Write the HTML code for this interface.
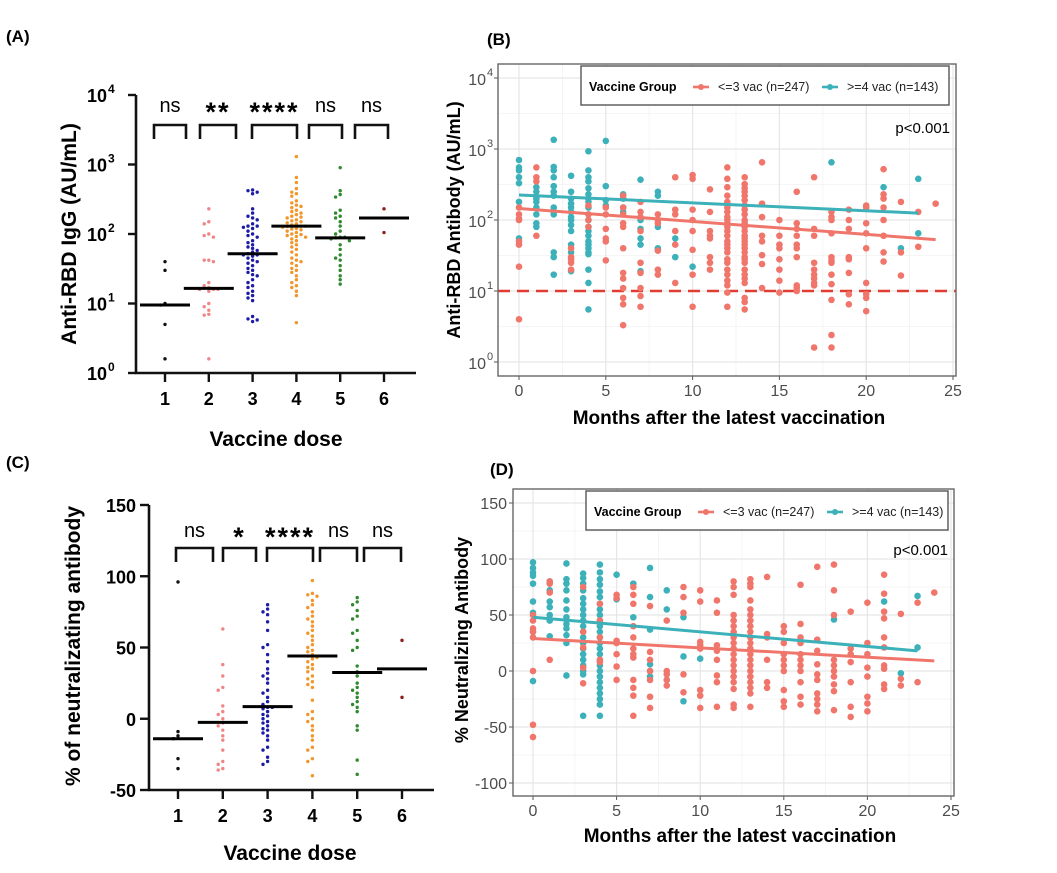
<!DOCTYPE html>
<html><head><meta charset="utf-8"><style>
html,body{margin:0;padding:0;background:#fff;}
svg{display:block;font-family:"Liberation Sans",Arial,sans-serif;}
</style></head><body>
<svg id="fig" width="1057" height="873" viewBox="0 0 1057 873" xmlns="http://www.w3.org/2000/svg">
<rect x="0" y="0" width="1057" height="873" fill="#fff"/>
<text x="6" y="42" font-size="17" font-weight="bold">(A)</text>
<text x="487" y="45" font-size="17" font-weight="bold">(B)</text>
<text x="6" y="468" font-size="17" font-weight="bold">(C)</text>
<text x="490" y="475" font-size="17" font-weight="bold">(D)</text>
<text transform="translate(76,234) rotate(-90)" text-anchor="middle" font-size="21" font-weight="bold">Anti-RBD IgG (AU/mL)</text>
<text x="276" y="446" text-anchor="middle" font-size="21" font-weight="bold">Vaccine dose</text>
<text transform="translate(80,646) rotate(-90)" text-anchor="middle" font-size="21" font-weight="bold">% of neutralizating antibody</text>
<text x="290" y="860" text-anchor="middle" font-size="21" font-weight="bold">Vaccine dose</text>
<text transform="translate(460,220) rotate(-90)" text-anchor="middle" font-size="18" font-weight="bold">Anti-RBD Antibody (AU/mL)</text>
<text x="729" y="424" text-anchor="middle" font-size="19" font-weight="bold">Months after the latest vaccination</text>
<text transform="translate(468,640) rotate(-90)" text-anchor="middle" font-size="18" font-weight="bold">% Neutralizing Antibody</text>
<text x="740" y="842" text-anchor="middle" font-size="19" font-weight="bold">Months after the latest vaccination</text>
<g id="layer"></g>
</svg>
<script>
// ---------- Panel A data (Anti-RBD IgG by dose) ----------
const doseCategories = ["1","2","3","4","5","6"];
const aDose1 = [40,30,10,9.5,5,1.6];
const aDose2 = [230,150,140,100,95,90,42,40,42,20,18,17,16,16,16,15,10,9,8,7,6.8,1.6];
const aDose3 = [430,420,400,380,230,200,180,170,160,140,130,130,125,120,110,100,95,90,80,75,70,65,62,58,55,52,50,50,48,45,42,40,38,35,32,30,28,26,25,22,20,18,17,15,14,13,12,11,6.5,6,5.8,5.5];
const aDose4 = [1300,650,550,450,400,380,350,300,280,260,250,240,220,210,200,190,180,175,170,160,155,150,145,140,135,130,130,128,125,120,118,115,110,105,100,98,95,92,90,85,80,75,70,65,60,55,50,45,42,40,38,35,32,30,28,25,22,20,18,17,15,13,5.3];
const aDose5 = [900,420,370,340,220,200,180,170,150,130,110,100,90,90,88,85,80,70,60,50,45,42,35,30,25,22,19];
const aDose6 = [230,105];
const aMedians = [9.5,16.5,52,130,88,170];
const aSig = ["ns","**","****","ns","ns"];
const aTickLabels = ["0","1","2","3","4"];
// ---------- Panel C data (% neutralizing by dose) ----------
const cDose1 = [96,-9,-12,-14,-28,-35];
const cDose2 = [63,38,30,22,20,9,5,3,0,-3,-5,-8,-12,-15,-22,-30,-32,-35,-36];
const cDose3 = [80,77,75,73,68,62,52,50,45,40,35,32,30,28,25,20,18,15,12,10,8,8,7,5,3,2,0,-2,-3,-5,-7,-8,-10,-12,-15,-20,-22,-27,-30,-32];
const cDose4 = [97,88,87,86,83,80,78,75,72,70,68,65,62,60,58,55,52,50,48,47,45,44,43,42,40,38,36,35,33,30,28,26,24,22,13,5,3,0,-2,-5,-8,-12,-15,-20,-22,-28,-30,-40];
const cDose5 = [85,82,80,76,72,70,62,60,55,50,48,37,33,30,25,22,20,18,15,12,10,8,5,-5,-8,-29,-39];
const cDose6 = [55,15];
const cMedians = [-14,-2.5,8.5,44,32.5,35];
const cSig = ["ns","*","****","ns","ns"];
const cTicks = [-50,0,50,100,150];
// ---------- Panel B data (month, values) ----------
const bRed = [[0,[150,120,105,100,50,45,22,4]],[1,[550,400,350,60]],[3,[40,30,28,25,20]],[4,[160,120,100,80]],[5,[150,120,75,55,50,27]],[6,[220,150,120,90,80,40,18,15,11,8,6.5,3.3]],[7,[180,130,110,70,25,18,11,8.5,6]],[8,[120,100,90,37,20,17]],[9,[400,140,120,70,45,13]],[10,[430,380,140,100,70,38,17,6]],[11,[270,130,70,60,55,30,25,20]],[12,[550,380,290,220,180,150,130,110,100,90,80,70,60,50,45,40,35,28,25,20,17,14,12,9.5,6]],[13,[400,320,280,250,220,190,160,140,120,100,90,80,70,60,55,50,45,40,35,30,28,25,20,17,15,13,8,7,5.5]],[14,[650,170,110,60,50,32,24,11]],[15,[100,60,45,40,28,20,14,9.5]],[16,[250,90,75,60,45,40,30,12,11,10]],[17,[400,75,60,25,20,17,15,13,12,1.6]],[18,[130,110,100,65,30,27,25,17,12.5,7.5,2.4,1.6]],[19,[140,100,75,30,28,18,9,6.5]],[20,[160,150,90,65,40,13,9,8,5.2]],[21,[520,230,200,150,100,60,35,26]],[22,[180,35,16.5]],[23,[130,42]],[24,[170]]];
const bTeal = [[0,[700,550,500,400,330,180,55]],[1,[290,250,200,180,150,120,90,80]],[2,[1350,560,500,400,300,250,220,150,130,120,35,30,17]],[3,[420,250,200,170,150,130,110,100,85,70,45,35,19]],[4,[930,500,400,350,280,230,200,180,150,120,100,80,70,60,50,45,40,35,33,20,13,5.5]],[5,[1300,300,190,160]],[6,[230,200,150,130]],[7,[370,100,75,55,45,19]],[8,[250,220,80,40,38]],[9,[55,30]],[10,[22]],[18,[650]],[21,[290]],[22,[40]],[23,[380,65]]];
const bRedFit = [[0,145],[24,53]];
const bTealFit = [[0,225],[23,125]];
const bCutoff = 10;
// ---------- Panel D data ----------
const dRed = [[0,[50,45,38,35,30,0,-48,-59]],[1,[80,78,70,10]],[3,[75,35,21,3,-11]],[4,[60,45,30,10,8]],[5,[68,65,27,25,15,4,-8]],[6,[75,68,60,40,30,20,15,12,-8,-15,-22,-40]],[7,[58,17,10,0,-8,-23,-33]],[8,[45,0,-3,-8,-13]],[9,[75,66,52,-3,-19]],[10,[72,62,26,23,20,-17,-22,-33]],[11,[63,52,23,18,10,-4,-10,-32]],[12,[80,75,68,50,45,40,35,30,25,20,15,10,5,0,-5,-10,-16,-30,-33]],[13,[82,78,75,63,55,50,45,40,35,30,25,20,15,10,5,0,-5,-10,-15,-20,-32]],[14,[84,33,30,10,-10,-15]],[15,[40,35,25,15,10,5,0,-17,-27,-32]],[16,[77,42,30,25,15,10,5,0,-10,-23,-30]],[17,[93,28,18,6,-3,-8,-20,-25,-30,-36]],[18,[95,72,50,10,5,0,-5,-12,-18,-35]],[19,[53,20,15,8,-10,-32,-41]],[20,[61,25,15,3,-5,-23,-29,-36]],[21,[86,69,53,47,30,21,5,2,-12,-16]],[22,[51,-7,-13]],[23,[61,-10]],[24,[70]]];
const dTeal = [[0,[97,92,88,85,78,62,52,35,-9]],[1,[80,72,62,57,50,45,31]],[2,[96,82,78,72,63,55,48,42,38,32,25,-4]],[3,[87,83,78,72,65,60,55,50,45,40,35,30,25,20,15,10,5,0,-3,-40]],[4,[95,88,82,77,71,66,60,55,50,45,40,35,30,25,20,15,10,5,0,-5,-10,-15,-20,-25,-30,-40]],[5,[86,64]],[6,[78,48]],[7,[92,66,37,6,0,-5]],[8,[72,55,-8]],[9,[48,13,-27]],[10,[11]],[18,[46]],[21,[62]],[22,[-2]],[23,[67,21]]];
const dRedFit = [[0,29],[24,9]];
const dTealFit = [[0,48],[23,18]];
const dTicks = [-100,-50,0,50,100,150];
const monthTicks = [0,5,10,15,20,25];

const NS = "http://www.w3.org/2000/svg";
const layer = document.getElementById('layer');
function mk(tag, attrs, text){
  const el = document.createElementNS(NS, tag);
  for (const k in attrs) el.setAttribute(k, attrs[k]);
  if (text !== undefined) el.textContent = text;
  layer.appendChild(el);
  return el;
}
const doseColors = ["#111","#F08585","#1C1CA6","#F2962A","#2F8A2F","#8B1E1E"];
const RED = "#F0766C", TEAL = "#3CB1B9";

const xA = d => 165 + d*43.8;
const yA = v => 373 - Math.log10(v)*69.5;
const xC = d => 178 + d*44.8;
const yC = v => 790 - (v+50)*1.425;
const xB = m => 519 + m*17.36;
const yB = v => 362 - Math.log10(v)*71;
const xD = m => 533 + m*16.72;
const yD = v => 503 + (150-v)*1.12;

// bracket layout (pixel spans, not data)
const aBracketSpan = [[154,186],[200,236],[252,297],[309,342],[355,388]];
const cBracketSpan = [[176,213],[223,256],[267,313],[320,357],[364,401]];

function swarm(vals, cx, yf, r, color, name){
  const placed = [];
  const sorted = vals.slice().sort((a,b)=>b-a);
  const gx = 4.6, gy = 3.6;
  sorted.forEach(v => {
    const y = yf(v);
    let best = cx;
    for (let k=0;k<40;k++){
      const off = (k%2===0?1:-1)*Math.ceil(k/2)*gx;
      const x = cx+off;
      if (placed.every(p => !(Math.abs(p[0]-x)<gx-0.1 && Math.abs(p[1]-y)<gy))) { best=x; break; }
    }
    placed.push([best,y]);
    const c = mk('circle',{cx:best,cy:y,r:r,fill:color});
    
    
  });
}
function dotPlot(groups, medians, sig, spans, xf, yf, yAxisTop, base, axisEnd, prefix, bracketY, labelY){
  let el = mk('line',{x1:xf(0)-29,y1:yAxisTop,x2:xf(0)-29,y2:base,stroke:"#111","stroke-width":2.6});
  
  
  el = mk('line',{x1:xf(0)-30,y1:base,x2:axisEnd,y2:base,stroke:"#111","stroke-width":2.6});
  
  
  doseCategories.forEach((lab,i) => {
    const t = mk('line',{x1:xf(i),y1:base,x2:xf(i),y2:base+9,stroke:"#111","stroke-width":2.4});
    
    
    const tx = mk('text',{x:xf(i),y:base+32,"text-anchor":"middle","font-size":18,"font-weight":"bold"},lab);
    
    
  });
  groups.forEach((vals,i) => {
    swarm(vals, xf(i), yf, 1.7, doseColors[i], prefix+'-dose-'+(i+1)+'-point');
    const m = mk('line',{x1:xf(i)-25,y1:yf(medians[i]),x2:xf(i)+25,y2:yf(medians[i]),stroke:"#000","stroke-width":3});
    
    
  });
  sig.forEach((s,i) => {
    const a = spans[i][0], b = spans[i][1];
    const p = mk('path',{d:`M${a},${bracketY+14} V${bracketY} H${b} V${bracketY+14}`,fill:"none",stroke:"#111","stroke-width":2.6});
    
    
    const isStar = s.indexOf('*')>=0;
    const t = mk('text',{x:(a+b)/2,y:labelY+(isStar?9:0),"text-anchor":"middle","font-size":isStar?27:20,"font-weight":isStar?"bold":"normal","letter-spacing":isStar?2:0},s);
    
    
  });
}

// ---- Panel A ----
[0,1,2,3,4].forEach(k => {
  const y = yA(Math.pow(10,k));
  const t = mk('line',{x1:128,y1:y,x2:136,y2:y,stroke:"#111","stroke-width":2.4});
  
  
  const tx = mk('text',{x:87,y:y+7,"font-size":18,"font-weight":"bold"},"10");
  
  
  const sp = mk('text',{x:108,y:y-2,"font-size":12,"font-weight":"bold"},aTickLabels[k]);
  
  
});
dotPlot([aDose1,aDose2,aDose3,aDose4,aDose5,aDose6], aMedians, aSig, aBracketSpan, i=>xA(i), yA, yA(1e4), 373, 416, 'panel-a', 125, 112);

// ---- Panel C ----
cTicks.forEach(v => {
  const y = yC(v);
  const t = mk('line',{x1:140,y1:y,x2:149,y2:y,stroke:"#111","stroke-width":2.4});
  
  
  const tx = mk('text',{x:136,y:y+7,"text-anchor":"end","font-size":18,"font-weight":"bold"},String(v));
  
  
});
dotPlot([cDose1,cDose2,cDose3,cDose4,cDose5,cDose6], cMedians, cSig, cBracketSpan, i=>xC(i), yC, yC(150), 790, 434, 'panel-c', 548, 537);

// ---- Scatter panels ----
function scatterPanel(p){
  const box = mk('rect',{x:p.bx,y:p.by,width:p.bw,height:p.bh,fill:"#fff"});
  
  
  p.xMinor.forEach(m => {
    const g = mk('line',{x1:p.xf(m),y1:p.by,x2:p.xf(m),y2:p.by+p.bh,stroke:"#f2f2f2","stroke-width":0.8});
    
    
  });
  p.yMinor.forEach(v => {
    const g = mk('line',{x1:p.bx,y1:p.yf(v),x2:p.bx+p.bw,y2:p.yf(v),stroke:"#f2f2f2","stroke-width":0.8});
    
    
  });
  monthTicks.forEach(m => {
    const g = mk('line',{x1:p.xf(m),y1:p.by,x2:p.xf(m),y2:p.by+p.bh,stroke:"#e6e6e6","stroke-width":1.2});
    
    
    const t = mk('line',{x1:p.xf(m),y1:p.by+p.bh,x2:p.xf(m),y2:p.by+p.bh+4,stroke:"#555","stroke-width":1});
    
    
    const tx = mk('text',{x:p.xf(m),y:p.by+p.bh+20,"text-anchor":"middle","font-size":16,fill:"#4d4d4d"},String(m));
    
    
  });
  p.yMajor.forEach((v,i) => {
    const g = mk('line',{x1:p.bx,y1:p.yf(v),x2:p.bx+p.bw,y2:p.yf(v),stroke:"#e6e6e6","stroke-width":1.2});
    
    
    const t = mk('line',{x1:p.bx-4,y1:p.yf(v),x2:p.bx,y2:p.yf(v),stroke:"#555","stroke-width":1});
    
    
    if (p.log){
      const tx = mk('text',{x:p.bx-12,y:p.yf(v)+7,"text-anchor":"end","font-size":16,fill:"#4d4d4d"},"10");
      
      
      const ex = mk('text',{x:p.bx-11,y:p.yf(v)-2,"font-size":11,fill:"#4d4d4d"},String(i));
      
      
    } else {
      const tx = mk('text',{x:p.bx-6,y:p.yf(v)+6,"text-anchor":"end","font-size":16,fill:"#4d4d4d"},String(v));
      
      
    }
  });
  if (p.cutoff !== undefined){
    const c = mk('line',{x1:p.bx,y1:p.yf(p.cutoff),x2:p.bx+p.bw,y2:p.yf(p.cutoff),stroke:"#E03C31","stroke-width":2.6,"stroke-dasharray":"12,7"});
    
    
  }
  [[p.teal,TEAL,'teal'],[p.red,RED,'red']].forEach(([set,col,nm]) => {
    set.forEach(([m,vals]) => vals.forEach(v => {
      const c = mk('circle',{cx:p.xf(m),cy:p.yf(v),r:3.3,fill:col});
      
      
    }));
  });
  [[p.tealFit,TEAL,'teal'],[p.redFit,RED,'red']].forEach(([f,col,nm]) => {
    const l = mk('line',{x1:p.xf(f[0][0]),y1:p.yf(f[0][1]),x2:p.xf(f[1][0]),y2:p.yf(f[1][1]),stroke:col,"stroke-width":3});
    
    
  });
  const br = mk('rect',{x:p.bx,y:p.by,width:p.bw,height:p.bh,fill:"none",stroke:"#666","stroke-width":1.4});
  
  
  const lg = mk('rect',{x:p.lx,y:p.ly,width:p.lw,height:39,fill:"#fff",stroke:"#555","stroke-width":1.4});
  
  
  const ty = p.ly+25;
  const lt = mk('text',{x:p.lx+8,y:ty,"font-size":12.5,"font-weight":"bold"},"Vaccine Group");
  
  
  [[p.lx+112,RED,"<=3 vac (n=247)",'red'],[p.lx+241,TEAL,">=4 vac (n=143)",'teal']].forEach(([x,col,lab,nm]) => {
    const k = mk('line',{x1:x,y1:ty-4,x2:x+16,y2:ty-4,stroke:col,"stroke-width":2.6});
    
    
    const kc = mk('circle',{cx:x+8,cy:ty-4,r:3,fill:col});
    
    
    const kt = mk('text',{x:x+25,y:ty,"font-size":12.5,fill:"#222"},lab);
    
    
  });
  const pv = mk('text',{x:p.bx+p.bw-6,y:p.py,"text-anchor":"end","font-size":15},"p<0.001");
  
  
}
const logMinor = [];
[0,1,2,3].forEach(k => logMinor.push(Math.pow(10,k+0.5)));
scatterPanel({prefix:'panel-b',bx:498,by:64,bw:458,bh:312,xf:xB,yf:yB,log:true,
  xMinor:[2.5,7.5,12.5,17.5,22.5],yMinor:logMinor,yMajor:[1,10,100,1000,10000],
  cutoff:bCutoff,red:bRed,teal:bTeal,redFit:bRedFit,tealFit:bTealFit,lx:581,ly:66,lw:368,py:133});
scatterPanel({prefix:'panel-d',bx:513,by:489,bw:441,bh:307,xf:xD,yf:yD,log:false,
  xMinor:[2.5,7.5,12.5,17.5,22.5],yMinor:[-75,-25,25,75,125],yMajor:dTicks,
  red:dRed,teal:dTeal,redFit:dRedFit,tealFit:dTealFit,lx:586,ly:491,lw:362,py:555});
</script>
</body></html>
